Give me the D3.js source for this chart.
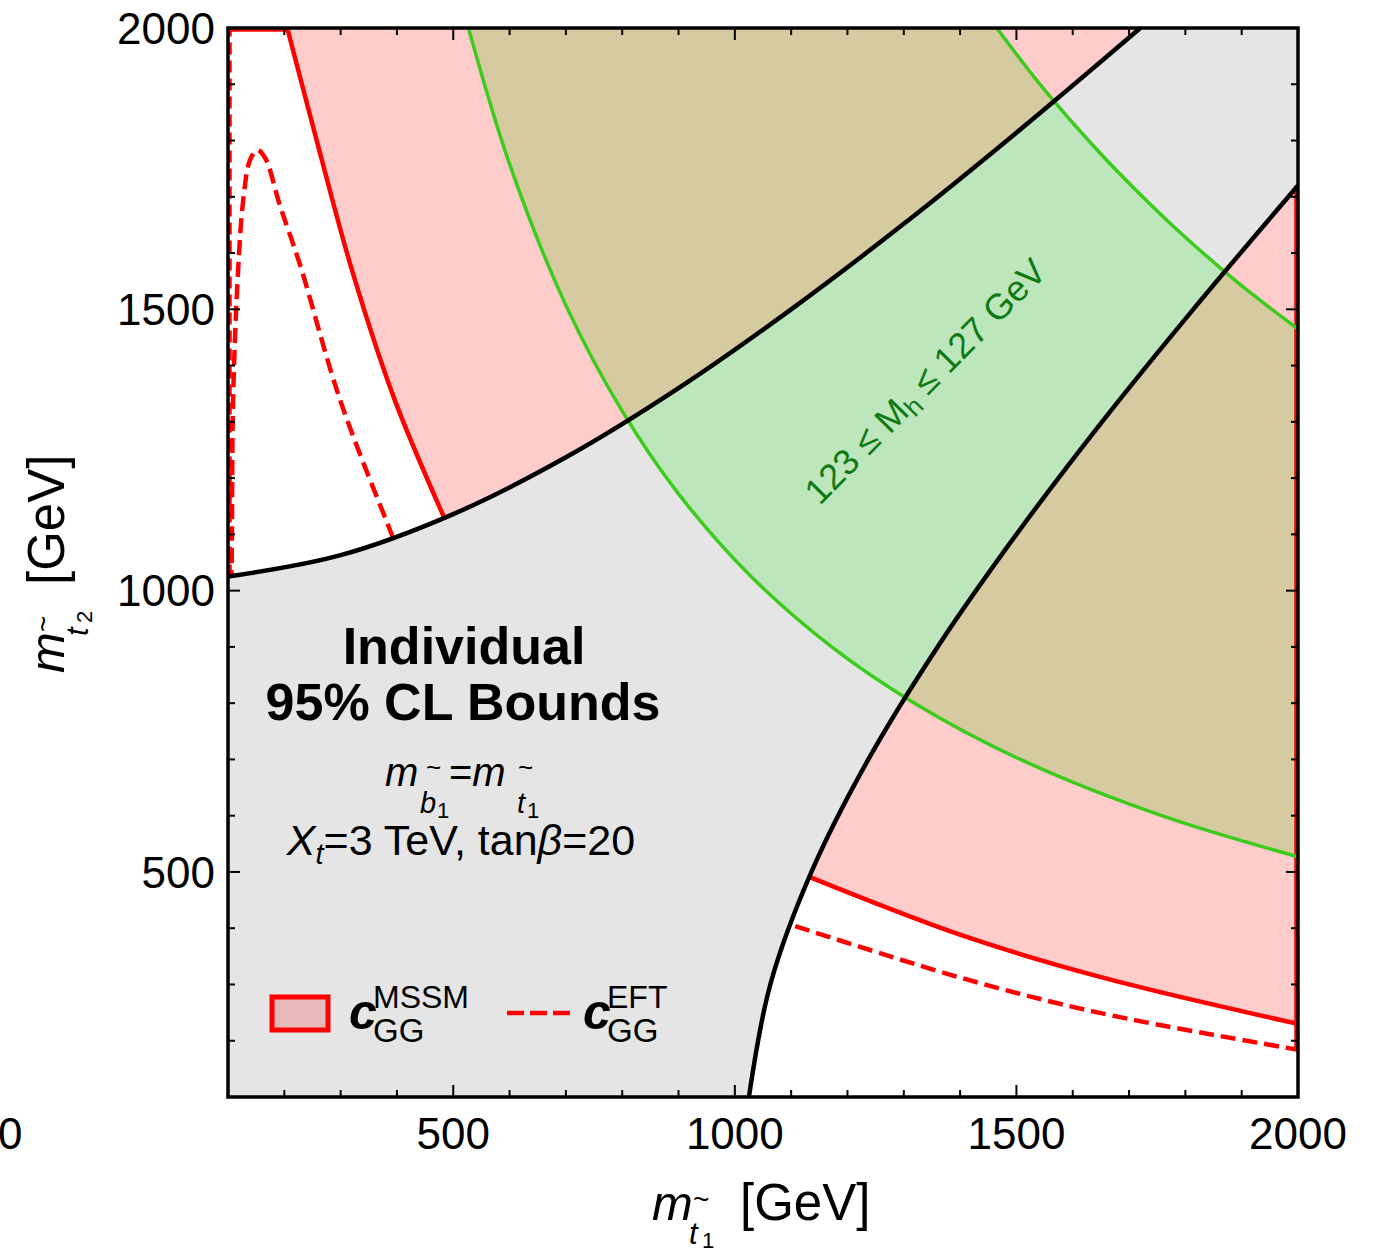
<!DOCTYPE html>
<html>
<head>
<meta charset="utf-8">
<script src="https://cdn.jsdelivr.net/npm/d3@7"></script>
<style>
body{margin:0;background:#fff;}
text{font-family:"Liberation Sans",Arial,sans-serif;}
</style>
</head>
<body>
<svg id="chart" width="1375" height="1255"></svg>
<script>
//curves, points are [m_t1, m_t2] in GeV
//black boundaries of the grey band
const blackUpper = [[100,1025],[300,1063],[500,1136],[700,1237],[900,1360],[1100,1500],[1300,1652],[1500,1814],[1720,2000]];
const blackLower = [[1025,100],[1063,300],[1136,500],[1237,700],[1360,900],[1500,1100],[1652,1300],[1814,1500],[2000,1720]];
//green Mh band
const greenInner = [[527,2000],[600,1758],[700,1507],[800,1319],[900,1172],[1027,1027],[1172,900],[1319,800],[1507,700],[1758,600],[2000,527]];
const greenOuter = [[1465,2000],[1550,1890],[1650,1776],[1712,1712],[1776,1650],[1890,1550],[2000,1465]];
//cGG MSSM (solid) and EFT (dashed)
const redUpper = [[200,2020],[262,1783],[320,1570],[396,1339],[482,1134],[498,1099]];
const redLower = [[1110,500],[1401,388],[1650,313],[2000,230]];
const dashUpper = [[106,1010],[107,1100],[109,1339],[118,1570],[127,1694],[139,1765],[152,1783],[166,1769],[192,1685],[228,1579],[299,1339],[391,1099],[420,1024]];
const dashLower = [[1070,416],[1401,312],[1650,249],[2000,184]];
//bits of contour running along the frame
const edgeSolid = [[[100,2000],[205,2000]],[[2000,184],[2000,1720]]];
const edgeDashed = [[[100,1025],[100,2000]]];

const majorTicks = [500,1000,1500,2000];
const minorTicks = d3.range(100,2001,100);

const svg = d3.select("#chart");
const x = d3.scaleLinear().domain([100,2000]).range([228,1298]);
const y = d3.scaleLinear().domain([100,2000]).range([1097,28]);

const line = d3.line().x(d => x(d[0])).y(d => y(d[1])).curve(d3.curveCatmullRom);
const lin = d3.line().x(d => x(d[0])).y(d => y(d[1]));

const defs = svg.append("defs");
defs.append("clipPath").attr("id","plotClip")
    .append("rect").attr("x",x(100)).attr("y",y(2000))
    .attr("width",x(2000)-x(100)).attr("height",y(100)-y(2000));

//grey band between black curves
const bandPath = line(blackUpper) + "L" + x(2000) + "," + y(2000)
    + line(blackLower.slice().reverse()).replace(/^M/,"L")
    + "L" + x(100) + "," + y(100) + "Z";
//everything outside the band
const upperArea = line(blackUpper) + "L" + x(100) + "," + y(2000) + "Z";
const lowerArea = line(blackLower) + "L" + x(2000) + "," + y(100) + "Z";

defs.append("clipPath").attr("id","insideClip").append("path").attr("d",bandPath);
const oc = defs.append("clipPath").attr("id","outsideClip");
oc.append("path").attr("d",upperArea);
oc.append("path").attr("d",lowerArea);

const pinkPath = line(redUpper) + line(redLower).replace(/^M/,"L")
    + "L" + x(2050) + "," + y(2050) + "L" + x(200) + "," + y(2050) + "Z";
const greenPath = line(greenInner) + line(greenOuter.slice().reverse()).replace(/^M/,"L") + "Z";

const plot = svg.append("g").attr("clip-path","url(#plotClip)");
plot.append("rect").attr("x",x(100)).attr("y",y(2000))
    .attr("width",x(2000)-x(100)).attr("height",y(100)-y(2000)).style("fill","white");
plot.append("path").attr("d",bandPath).style("fill","#e5e5e5");

const outside = plot.append("g").attr("clip-path","url(#outsideClip)");
outside.append("path").attr("d",pinkPath).style("fill","#ffcccc");
outside.append("path").attr("d",greenPath).style("fill","#d6caa1");

plot.append("g").attr("clip-path","url(#insideClip)")
    .append("path").attr("d",greenPath).style("fill","#bde6bd");

//red contours
outside.selectAll(".red").data([redUpper,redLower]).enter()
    .append("path").attr("d",line)
    .style("fill","none").style("stroke","#ff0000").style("stroke-width",4.5);
outside.selectAll(".dash").data([dashUpper,dashLower]).enter()
    .append("path").attr("d",line)
    .style("fill","none").style("stroke","#ff0000").style("stroke-width",4.5)
    .style("stroke-dasharray","15,7");
//frame-hugging contour pieces, nudged inwards so they show next to the frame
plot.append("path").attr("d",lin(edgeSolid[0])).attr("transform","translate(0,2.5)")
    .style("fill","none").style("stroke","#ff0000").style("stroke-width",2.5);
plot.append("path").attr("d",lin(edgeSolid[1])).attr("transform","translate(-2.5,0)")
    .style("fill","none").style("stroke","#ff0000").style("stroke-width",2.5);
plot.selectAll(".edgeD").data(edgeDashed).enter()
    .append("path").attr("d",lin).attr("transform","translate(2.5,0)")
    .style("fill","none").style("stroke","#ff0000").style("stroke-width",2.5)
    .style("stroke-dasharray","12,6");

//green and black curves
plot.selectAll(".green").data([greenInner,greenOuter]).enter()
    .append("path").attr("d",line)
    .style("fill","none").style("stroke","#3ccc1e").style("stroke-width",3.5);
plot.selectAll(".black").data([blackUpper,blackLower]).enter()
    .append("path").attr("d",line)
    .style("fill","none").style("stroke","black").style("stroke-width",4.5);

//frame and ticks
const frame = svg.append("g");
frame.append("rect").attr("x",x(100)).attr("y",y(2000))
    .attr("width",x(2000)-x(100)).attr("height",y(100)-y(2000))
    .style("fill","none").style("stroke","black").style("stroke-width",3.5);
function tickLen(v){ return majorTicks.includes(v) ? 12 : 7; }
minorTicks.forEach(function(v){
    frame.append("line").attr("x1",x(v)).attr("x2",x(v)).attr("y1",y(100)).attr("y2",y(100)-tickLen(v))
        .style("stroke","black").style("stroke-width",2);
    frame.append("line").attr("x1",x(v)).attr("x2",x(v)).attr("y1",y(2000)).attr("y2",y(2000)+tickLen(v))
        .style("stroke","black").style("stroke-width",2);
    frame.append("line").attr("y1",y(v)).attr("y2",y(v)).attr("x1",x(100)).attr("x2",x(100)+tickLen(v))
        .style("stroke","black").style("stroke-width",2);
    frame.append("line").attr("y1",y(v)).attr("y2",y(v)).attr("x1",x(2000)).attr("x2",x(2000)-tickLen(v))
        .style("stroke","black").style("stroke-width",2);
});
frame.selectAll(".xl").data(majorTicks).enter().append("text")
    .attr("x",d => x(d)).attr("y",1149).attr("text-anchor","middle")
    .style("font-size","44px").text(d => d);
frame.selectAll(".yl").data(majorTicks).enter().append("text")
    .attr("x",215).attr("y",d => y(d)).attr("dy","0.36em").attr("text-anchor","end")
    .style("font-size","44px").text(d => d);
//stray clipped label at the lower left
frame.append("text").attr("x",-2).attr("y",1149).style("font-size","44px").text("0");

//axis titles
function axisTitle(g, idx){
    g.append("text").attr("x",0).attr("y",0).style("font-size","49px").style("font-style","italic").text("m");
    g.append("text").attr("x",37).attr("y",24).style("font-size","31px").style("font-style","italic").text("t");
    g.append("text").attr("x",41).attr("y",-11).style("font-size","28px").text("~");
    g.append("text").attr("x",50).attr("y",28).style("font-size","22px").text(idx);
    g.append("text").attr("x",88).attr("y",0).style("font-size","51px").text("[GeV]");
}
axisTitle(svg.append("g").attr("transform","translate(652,1220)"), "1");
axisTitle(svg.append("g").attr("transform","translate(64,673) rotate(-90)"), "2");

//annotation box
svg.append("text").attr("x",464).attr("y",664).attr("text-anchor","middle")
    .style("font-size","52px").style("font-weight","bold").text("Individual");
svg.append("text").attr("x",463).attr("y",720).attr("text-anchor","middle")
    .style("font-size","52px").style("font-weight","bold").text("95% CL Bounds");
const note = svg.append("g");
note.append("text").attr("x",385).attr("y",786).style("font-size","40px").style("font-style","italic").text("m");
note.append("text").attr("x",420).attr("y",813).style("font-size","29px").style("font-style","italic").text("b");
note.append("text").attr("x",437).attr("y",818).style("font-size","22px").text("1");
note.append("text").attr("x",426).attr("y",776).style("font-size","26px").text("~");
note.append("text").attr("x",449).attr("y",786).style("font-size","40px").text("=")
    .append("tspan").style("font-style","italic").text("m");
note.append("text").attr("x",517).attr("y",813).style("font-size","29px").style("font-style","italic").text("t");
note.append("text").attr("x",527).attr("y",818).style("font-size","22px").text("1");
note.append("text").attr("x",518).attr("y",776).style("font-size","26px").text("~");
const xt = svg.append("text").attr("x",461).attr("y",855).attr("text-anchor","middle").style("font-size","43px");
xt.append("tspan").style("font-style","italic").text("X");
xt.append("tspan").attr("dy",9).style("font-size","29px").style("font-style","italic").text("t");
xt.append("tspan").attr("dy",-9).text("=3 TeV, tan");
xt.append("tspan").style("font-style","italic").text("β");
xt.append("tspan").text("=20");

//band label
const gl = svg.append("text").attr("transform","translate(934,390) rotate(-45.5)")
    .attr("text-anchor","middle").style("font-size","36px").style("fill","#0e7a12");
gl.append("tspan").text("123 ≤ M");
gl.append("tspan").attr("dy",6).style("font-size","26px").text("h");
gl.append("tspan").attr("dy",-6).text(" ≤ 127 GeV");

//legend
svg.append("rect").attr("x",272).attr("y",997).attr("width",56).attr("height",33)
    .style("fill","#e8b9b9").style("stroke","#ff0000").style("stroke-width",5);
function legendLabel(x0, sup){
    svg.append("text").attr("x",x0).attr("y",1029).style("font-size","50px")
        .style("font-style","italic").style("font-weight","bold").text("c");
    svg.append("text").attr("x",x0+24).attr("y",1008).style("font-size","32px").text(sup);
    svg.append("text").attr("x",x0+24).attr("y",1042).style("font-size","33px").text("GG");
}
legendLabel(349,"MSSM");
svg.append("line").attr("x1",507).attr("x2",570).attr("y1",1013).attr("y2",1013)
    .style("stroke","#ff0000").style("stroke-width",4.5).style("stroke-dasharray","17,6");
legendLabel(583,"EFT");
</script>
</body>
</html>
